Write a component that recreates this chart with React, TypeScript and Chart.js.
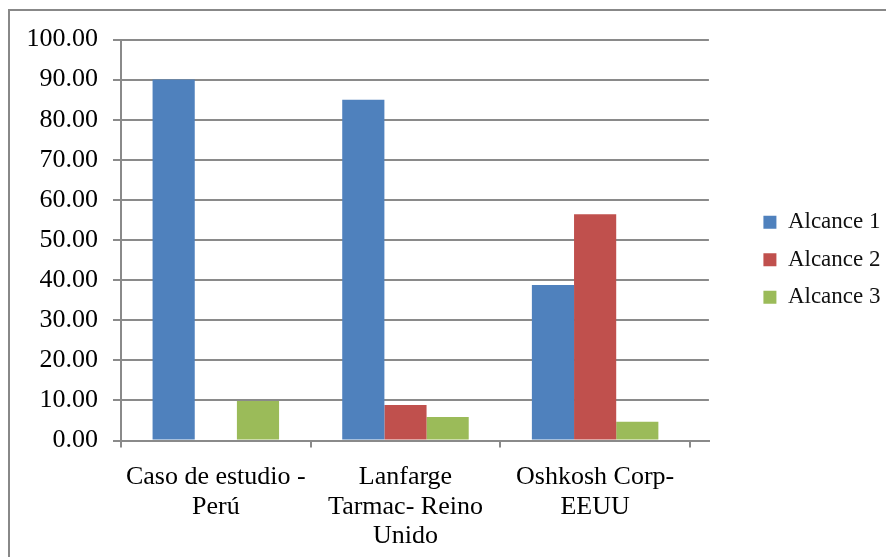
import React, { useEffect, useRef } from "react";
import { Chart, registerables } from "chart.js";

Chart.register(...registerables);

const categories: string[][] = [
  ["Caso de estudio -", "Perú"],
  ["Lanfarge", "Tarmac- Reino", "Unido"],
  ["Oshkosh Corp-", "EEUU"],
];
const seriesNames = ["Alcance 1", "Alcance 2", "Alcance 3"];
const alcance1 = [90, 85, 38.8];
const alcance2: (number | null)[] = [null, 8.85, 56.4];
const alcance3 = [9.85, 5.86, 4.69];
const seriesColors = ["#4F81BD", "#C0504D", "#9BBB59"];
const yMin = 0;
const yMax = 100;
const yStep = 10;

const FONT = "'Liberation Serif', 'Times New Roman', serif";
const GRID = "#8a8a8a";

export default function App() {
  const ref = useRef<HTMLCanvasElement | null>(null);

  useEffect(() => {
    if (!ref.current) return;
    const series = [alcance1, alcance2, alcance3];
    const chart = new Chart(ref.current, {
      type: "bar",
      data: {
        datasets: series.map((vals, si) => ({
          label: seriesNames[si],
          data: vals.map((v, i) => ({ x: i, y: v })),
          backgroundColor: seriesColors[si],
          borderWidth: 0,
          categoryPercentage: 0.667,
          barPercentage: 1,
        })),
      },
      options: {
        responsive: false,
        animation: false,
        layout: { padding: { top: 28.5, bottom: 2, left: 0, right: 3.5 } },
        plugins: {
          tooltip: { enabled: false },
          legend: {
            position: "right",
            align: "center",
            fullSize: false,
            title: {
              display: true,
              text: "",
              padding: { top: 0, bottom: 12 },
              font: { family: FONT, size: 23 },
            },
            labels: {
              font: { family: FONT, size: 23 },
              color: "#111",
              boxWidth: 13,
              boxHeight: 13,
              padding: 14.5,
            },
          },
        },
        scales: {
          x: {
            type: "linear",
            offset: false,
            min: -0.5,
            max: 2.6,
            afterBuildTicks: (s: any) => {
              s.ticks = categories.map((_, i) => ({ value: i }));
            },
            afterFit: (s: any) => {
              s.height = 114.5;
            },
            grid: {
              display: true,
              drawOnChartArea: false,
              drawTicks: true,
              tickLength: 7,
              offset: true,
              color: GRID,
              lineWidth: 2,
            },
            border: { display: true, color: GRID, width: 2 },
            ticks: {
              autoSkip: false,
              maxRotation: 0,
              minRotation: 0,
              padding: 15,
              color: "#000",
              font: { family: FONT, size: 26, lineHeight: 1.14 },
              callback: (v: any) => categories[Math.round(Number(v))] ?? "",
            },
          },
          y: {
            type: "linear",
            min: yMin,
            max: yMax,
            afterFit: (s: any) => {
              s.width = 111;
            },
            grid: {
              color: GRID,
              lineWidth: 2,
              drawTicks: true,
              tickLength: 8,
            },
            border: { display: true, color: GRID, width: 2 },
            ticks: {
              stepSize: yStep,
              padding: 15,
              color: "#000",
              font: { family: FONT, size: 26, lineHeight: 1 },
              callback: (v: any) => Number(v).toFixed(2),
            },
          },
          pad: {
            type: "linear",
            position: "right",
            display: true,
            grid: { display: false },
            border: { display: false },
            ticks: { display: false },
            afterFit: (s: any) => {
              s.width = 40;
            },
          },
        },
      } as any,
    });
    return () => chart.destroy();
  }, []);

  return (
    <div
      style={{
        position: "relative",
        top: 1,
        width: 886,
        height: 548,
        borderTop: "2px solid #888",
        borderLeft: "2px solid #888",
        background: "#fff",
      }}
    >
      <canvas ref={ref} width={884} height={546} style={{ display: "block" }} />
    </div>
  );
}
